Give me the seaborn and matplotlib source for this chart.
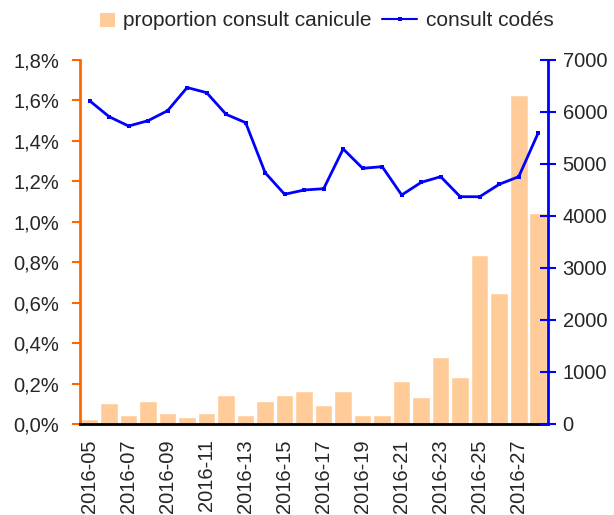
import numpy as np
import pandas as pd
import matplotlib
matplotlib.use("Agg")
import matplotlib.pyplot as plt
import seaborn as sns
from matplotlib.patches import Patch, Rectangle
from matplotlib.lines import Line2D
from matplotlib.legend_handler import HandlerPatch
from matplotlib.ticker import FuncFormatter

weeks = [f"2016-{w:02d}" for w in range(5, 29)]
proportion = [0.025, 0.104, 0.045, 0.114, 0.054, 0.035, 0.054, 0.144, 0.045, 0.114,
              0.144, 0.163, 0.094, 0.163, 0.045, 0.045, 0.213, 0.134, 0.331, 0.233,
              0.836, 0.649, 1.628, 1.044]
consult = [6217, 5910, 5730, 5833, 6025, 6470, 6372, 5955, 5795, 4833,
           4417, 4500, 4525, 5290, 4917, 4949, 4404, 4647, 4756, 4371,
           4371, 4610, 4756, 5600]

df = pd.DataFrame({"week": weeks, "pos": np.arange(len(weeks)),
                   "proportion": proportion, "consult": consult})

sns.set_style("white")
plt.rcParams["font.family"] = ["Liberation Sans", "DejaVu Sans"]
FS = 14.5

fig = plt.figure(figsize=(6.14, 5.15), dpi=100)
ax = fig.add_axes([0.130, 0.1767, 0.7625, 0.7068])

bar_color = "#FFCC99"
line_color = "#0000FF"
orange = "#FF6600"

sns.barplot(data=df, x="pos", y="proportion", color=bar_color, width=0.9,
            saturation=1, ax=ax, native_scale=True)
ax.set_xlim(-0.5, len(weeks) - 0.5)
ax.set_ylim(0, 1.8)
ax.set_yticks(np.arange(0, 1.81, 0.2))
ax.yaxis.set_major_formatter(FuncFormatter(lambda v, p: f"{v:.1f}%".replace(".", ",")))
ax.set_xlabel("")
ax.set_ylabel("")

# x ticks: marks at bar boundaries, labels at every other bar center
ax.set_xticks(np.arange(-0.5, len(weeks), 1.0))
ax.set_xticklabels([])
ax.set_xticks(np.arange(0, len(weeks), 2), minor=True)
ax.set_xticklabels(weeks[::2], minor=True, rotation=90)
ax.tick_params(axis="x", which="major", length=6, width=1.5, color="black", direction="out")
ax.tick_params(axis="x", which="minor", length=0, pad=11, labelsize=FS)
ax.tick_params(axis="y", length=6, width=1.5, color=orange, direction="out",
               labelsize=FS, pad=9)

for s in ["top", "right"]:
    ax.spines[s].set_visible(False)
ax.spines["left"].set_color(orange)
ax.spines["left"].set_linewidth(2)
ax.spines["bottom"].set_color("black")
ax.spines["bottom"].set_linewidth(2)

ax2 = ax.twinx()
sns.lineplot(data=df, x="pos", y="consult", color=line_color, linewidth=2,
             marker="s", markersize=3.5, markeredgewidth=0, ax=ax2)
ax2.set_ylim(0, 7000)
ax2.set_yticks(np.arange(0, 7001, 1000))
ax2.set_ylabel("")
ax2.set_xlim(-0.5, len(weeks) - 0.5)
ax2.tick_params(axis="y", length=11, width=1.5, color=line_color, direction="inout",
                labelsize=FS, pad=5)
for s in ["top", "left", "bottom"]:
    ax2.spines[s].set_visible(False)
ax2.spines["right"].set_color(line_color)
ax2.spines["right"].set_linewidth(2)


class SquareHandler(HandlerPatch):
    def create_artists(self, legend, orig_handle, xdescent, ydescent, width, height,
                       fontsize, trans):
        size = height * 1.0
        p = Rectangle((width - size - xdescent, -ydescent + (height - size) / 2 - 1),
                      size, size, facecolor=orig_handle.get_facecolor(),
                      edgecolor="none", transform=trans)
        return [p]


handles = [Patch(facecolor=bar_color, edgecolor="none"),
           Line2D([0], [0], color=line_color, linewidth=1.5, marker="s",
                  markersize=2.5, markeredgewidth=0)]
fig.legend(handles, ["proportion consult canicule", "consult codés"],
           loc="center", bbox_to_anchor=(0.515, 0.960), ncol=2, frameon=False,
           fontsize=15, handlelength=1.7, handletextpad=0.4, columnspacing=0.5,
           borderaxespad=0, handler_map={Patch: SquareHandler()})

fig.savefig("out.png", dpi=100)
